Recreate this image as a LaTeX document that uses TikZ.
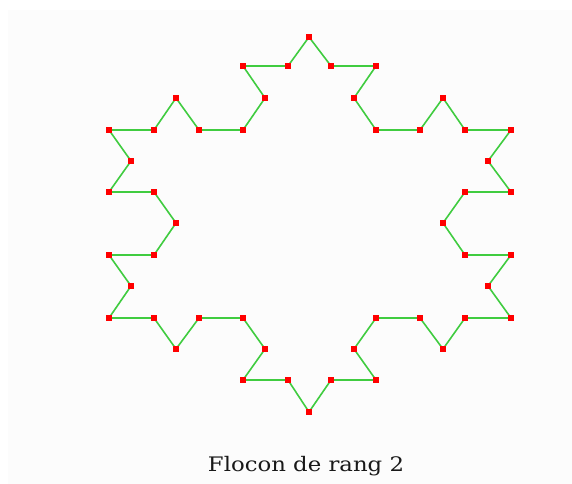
\documentclass[tikz,border=0pt]{standalone}
\usepackage{fontspec}
\newfontfamily\capfont[FakeStretch=1.14]{DejaVu Serif}
\definecolor{linegreen}{RGB}{64,204,64}
\definecolor{dotred}{RGB}{255,0,0}
\begin{document}
\begin{tikzpicture}[x=0.75pt,y=-0.75pt,
  dot/.style={rectangle,fill=dotred,inner sep=0pt,minimum size=4.6pt},
  edge/.style={draw=linegreen,line width=1.2pt,line join=round},
  caption/.style={font=\capfont\fontsize{15}{18}\selectfont,text=black!90}]
\useasboundingbox (0,0) rectangle (572,484);
\fill[white] (0,0) rectangle (572,484);
\fill[black!1] (8,10) rectangle (572,484);
\foreach \px/\py [count=\i] in {
 309/37, 288/66, 243/66, 265/98, 243/130, 199/130, 176/98, 154/130,
 109/130, 131/161, 109/192, 154/192, 176/223, 154/255, 109/255, 131/286,
 109/318, 154/318, 176/349, 199/318, 243/318, 265/349, 243/380, 288/380,
 309/412, 331/380, 376/380, 354/349, 376/318, 420/318, 443/349, 465/318,
 511/318, 488/286, 511/255, 465/255, 443/223, 465/192, 511/192, 488/161,
 511/130, 465/130, 443/98, 420/130, 376/130, 354/98, 376/66, 331/66}
 { \coordinate (p\i) at (\px,\py); }
\draw[edge] (p1) \foreach \i in {2,...,48} { -- (p\i) } -- cycle;
\foreach \i in {1,...,48} { \node[dot] (d\i) at (p\i) {}; }
\node[caption] (cap) at (306,466) {Flocon de rang 2};
\end{tikzpicture}
\end{document}
